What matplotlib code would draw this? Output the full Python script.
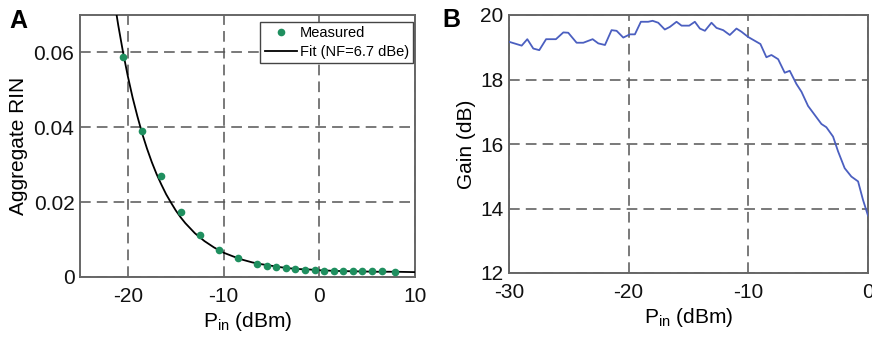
import numpy as np
import matplotlib.pyplot as plt

plt.rcParams['font.family'] = ['Liberation Sans', 'DejaVu Sans']
plt.rcParams['mathtext.fontset'] = 'custom'
plt.rcParams['mathtext.rm'] = 'Liberation Sans'
plt.rcParams['axes.unicode_minus'] = False

# ---- Panel A: aggregate RIN vs input power ----
pin_meas = [-20.5, -18.5, -16.5, -14.5, -12.5, -10.5, -8.5, -6.5, -5.5, -4.5, -3.5,
            -2.5, -1.5, -0.5, 0.5, 1.5, 2.5, 3.5, 4.5, 5.5, 6.5, 7.9]
rin_meas = [0.0588, 0.0389, 0.0269, 0.0173, 0.0113, 0.0072, 0.0050, 0.0034, 0.0029,
            0.0026, 0.0024, 0.0021, 0.0020, 0.0019, 0.0017, 0.0017, 0.0016, 0.0015,
            0.0015, 0.0015, 0.0015, 0.0014]

pin_fit = [-21.5, -21, -20.5, -20, -19.5, -19, -18.5, -18, -17.5, -17, -16.5, -16,
           -15.5, -15, -14.5, -14, -13, -12, -11, -10, -9, -8, -7, -6, -5, -4, -3,
           -2, -1, 0, 2, 4, 6, 8, 10]
rin_fit = [0.0752, 0.0672, 0.0600, 0.0536, 0.0479, 0.0429, 0.0383, 0.0343, 0.0307,
           0.0275, 0.0247, 0.0221, 0.0199, 0.0178, 0.0160, 0.0144, 0.0117, 0.0096,
           0.0079, 0.0065, 0.0055, 0.0046, 0.0039, 0.0034, 0.0030, 0.0026, 0.0023,
           0.0021, 0.0020, 0.0018, 0.0016, 0.0015, 0.0014, 0.0014, 0.0013]

# ---- Panel B: gain vs input power ----
pin_gain = [-30, -28.94, -28.47, -27.97, -27.47, -26.9, -26.08, -25.46, -25.05, -24.35,
            -23.79, -23.01, -22.54, -21.98, -21.43, -21.01, -20.45, -19.9, -19.48,
            -18.98, -18.37, -18.0, -17.53, -16.98, -16.56, -16.0, -15.58, -14.94,
            -14.47, -14.05, -13.63, -13.08, -12.66, -12.1, -11.55, -10.99, -10.57,
            -10.02, -9.46, -8.99, -8.49, -8.07, -7.51, -6.96, -6.54, -5.98, -5.56,
            -5.01, -4.45, -3.89, -3.48, -2.92, -2.5, -1.95, -1.39, -0.83, -0.42, 0]
gain_db = [19.17, 19.05, 19.25, 18.96, 18.91, 19.25, 19.25, 19.46, 19.45, 19.14,
           19.14, 19.25, 19.12, 19.07, 19.53, 19.51, 19.30, 19.40, 19.40, 19.79,
           19.79, 19.82, 19.76, 19.55, 19.63, 19.79, 19.67, 19.67, 19.79, 19.58,
           19.51, 19.76, 19.60, 19.53, 19.38, 19.58, 19.48, 19.32, 19.20, 19.10,
           18.69, 18.76, 18.63, 18.21, 18.27, 17.86, 17.62, 17.18, 16.90, 16.62,
           16.52, 16.23, 15.77, 15.25, 14.99, 14.84, 14.27, 13.78]

GRID = dict(color='#555555', linestyle=(0, (7, 4)), linewidth=1.1)
FS = 15

fig = plt.figure(figsize=(8.72, 3.37), dpi=100)
axA = fig.add_axes([80 / 872, 1 - 277 / 337, 335 / 872, 262 / 337])
axB = fig.add_axes([509 / 872, 1 - 273 / 337, 359 / 872, 258 / 337])


def style(ax):
    for s in ax.spines.values():
        s.set_color('#666666')
        s.set_linewidth(1.4)
    ax.tick_params(length=0, labelsize=FS, colors='#111111')
    ax.tick_params(axis='x', pad=7)
    ax.tick_params(axis='y', pad=4)
    ax.grid(True, **GRID)
    ax.set_axisbelow(True)


axA.plot(pin_fit, rin_fit, color='black', lw=1.3, label='Fit (NF=6.7 dBe)', zorder=3)
axA.plot(pin_meas, rin_meas, 'o', color='#1f8f5f', ms=5.5, mec='none', label='Measured',
         zorder=4)
axA.set_xlim(-25, 10)
axA.set_ylim(0, 0.07)
axA.set_xticks([-20, -10, 0, 10])
axA.set_yticks([0, 0.02, 0.04, 0.06])
axA.set_yticklabels(['0', '0.02', '0.04', '0.06'])
style(axA)
axA.set_xlabel(r'P$_{\mathrm{in}}$ (dBm)', fontsize=FS, labelpad=3)
axA.set_ylabel('Aggregate RIN', fontsize=FS, labelpad=4)
h, l = axA.get_legend_handles_labels()
leg = axA.legend(h[::-1], l[::-1], loc='upper right', bbox_to_anchor=(413 / 872, 1 - 22 / 337),
                 bbox_transform=fig.transFigure, fontsize=10.5, fancybox=False,
                 edgecolor='#444444', framealpha=1, borderpad=0.3, handlelength=2.2,
                 handletextpad=0.2, labelspacing=0.3, borderaxespad=0)
leg.get_frame().set_linewidth(1.0)

axB.plot(pin_gain, gain_db, color='#4b5fc0', lw=1.3, zorder=3)
axB.set_xlim(-30, 0)
axB.set_ylim(12, 20)
axB.set_xticks([-30, -20, -10, 0])
axB.set_yticks([12, 14, 16, 18, 20])
style(axB)
axB.set_xlabel(r'P$_{\mathrm{in}}$ (dBm)', fontsize=FS, labelpad=3)
axB.set_ylabel('Gain (dB)', fontsize=FS, labelpad=3)

fig.text(9 / 872, 1 - 21 / 337, 'A', fontsize=18, fontweight='bold', va='center')
fig.text(442 / 872, 1 - 20 / 337, 'B', fontsize=18, fontweight='bold', va='center')

fig.savefig('out.png', dpi=100)
